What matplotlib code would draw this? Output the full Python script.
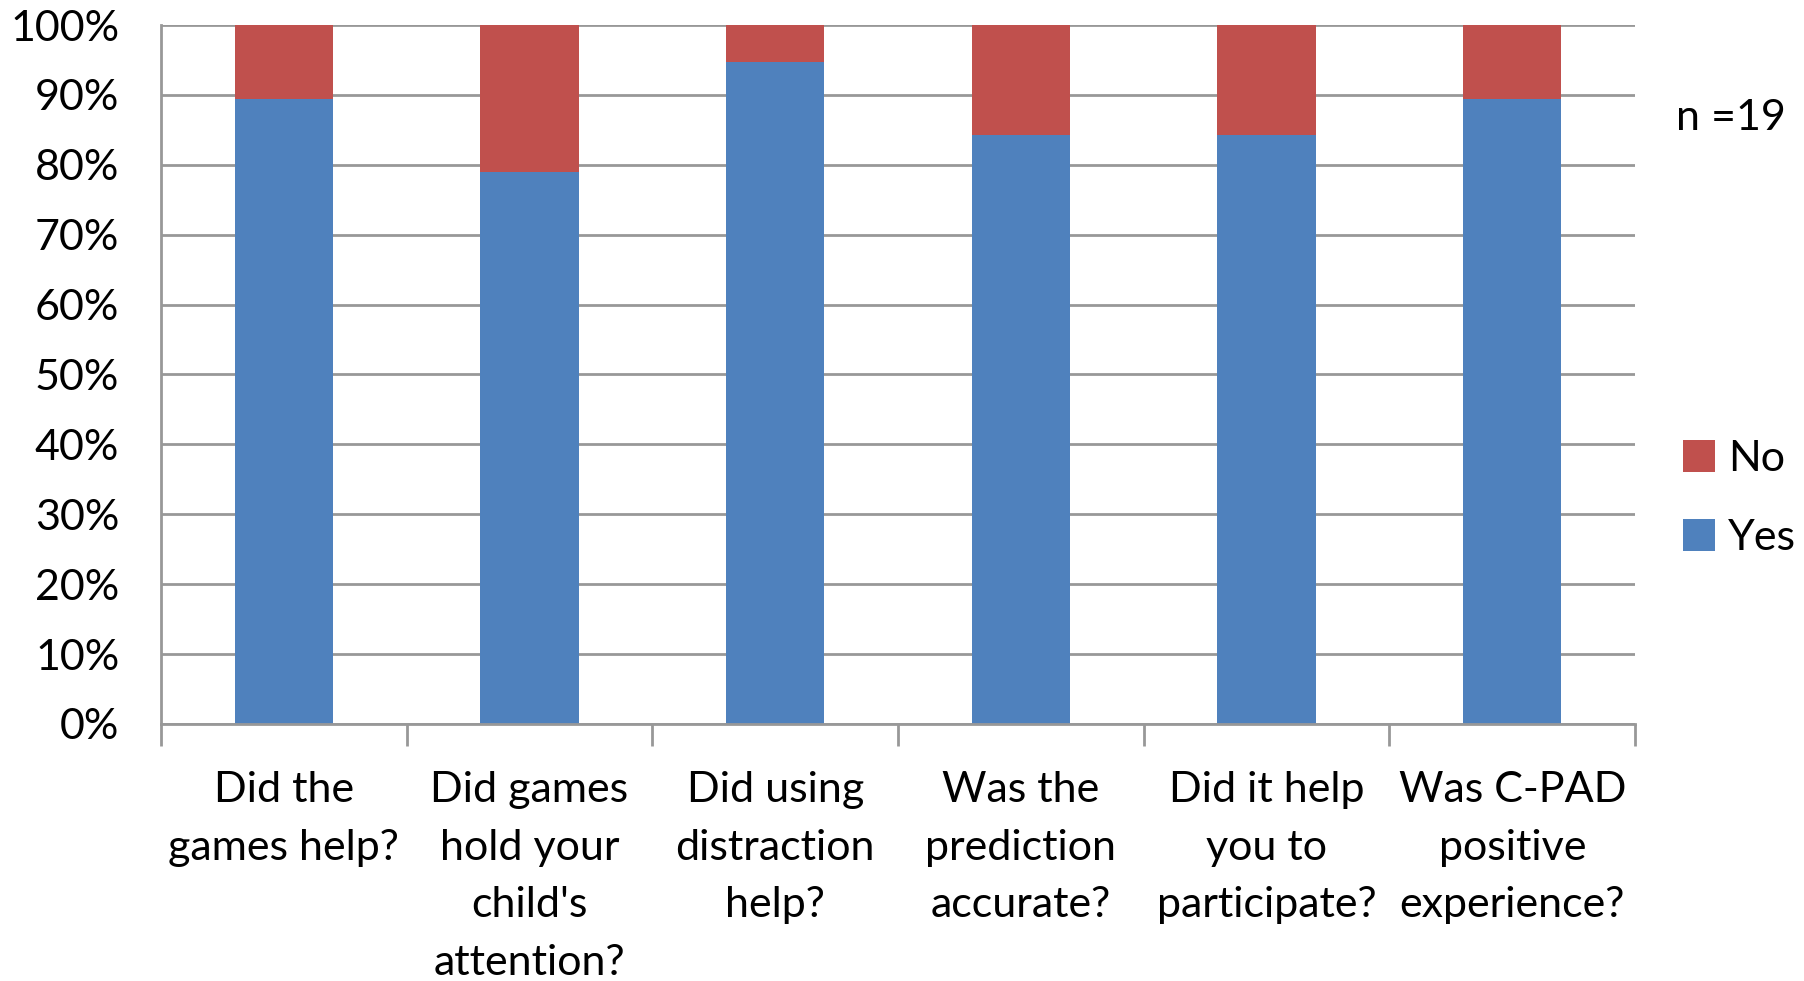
import numpy as np
import matplotlib.pyplot as plt
from matplotlib.ticker import FuncFormatter, FixedLocator

plt.rcParams['font.family'] = ['Lato', 'DejaVu Sans']

# survey questions, n = 19 respondents
questions = ["Did the\ngames help?",
             "Did games\nhold your\nchild's\nattention?",
             "Did using\ndistraction\nhelp?",
             "Was the\nprediction\naccurate?",
             "Did it help\nyou to\nparticipate?",
             "Was C-PAD\npositive\nexperience?"]
yes_pct = [89.47, 78.95, 94.74, 84.21, 84.21, 89.47]
no_pct = [10.53, 21.05, 5.26, 15.79, 15.79, 10.53]

blue = '#4F81BD'
red = '#C0504D'
grid_col = '#989898'
fs = 31

fig = plt.figure(figsize=(18.04, 9.81), dpi=100)
ax = fig.add_axes([0.0892, 0.262, 0.8172, 0.7125])

x = np.arange(len(questions))
ax.bar(x, yes_pct, width=0.4, color=blue, label='Yes', zorder=3)
ax.bar(x, no_pct, width=0.4, bottom=yes_pct, color=red, label='No', zorder=3)

ax.set_xlim(-0.5, len(questions) - 0.5)
ax.set_ylim(0, 100)
ax.set_yticks(np.arange(0, 101, 10))
ax.yaxis.set_major_formatter(FuncFormatter(lambda v, p: f'{v:.0f}%'))
ax.grid(axis='y', color=grid_col, linewidth=2, zorder=0)

# category boundary ticks, labels centred under bars
ax.xaxis.set_major_locator(FixedLocator(np.arange(-0.5, len(questions), 1)))
ax.xaxis.set_minor_locator(FixedLocator(x))
ax.set_xticklabels([])
ax.set_xticklabels(questions, minor=True)
ax.tick_params(axis='x', which='major', direction='out', length=16, width=2, color=grid_col)
ax.tick_params(axis='x', which='minor', length=0, pad=34, labelsize=fs)
for lab in ax.get_xticklabels(minor=True):
    lab.set_verticalalignment('top')
    lab.set_linespacing(1.63)
ax.tick_params(axis='y', length=0, pad=30, labelsize=fs)

for s in ['top', 'right']:
    ax.spines[s].set_visible(False)
for s in ['left', 'bottom']:
    ax.spines[s].set_color(grid_col)
    ax.spines[s].set_linewidth(2)
    ax.spines[s].set_zorder(4)

handles, labels = ax.get_legend_handles_labels()
fig.legend(handles[::-1], labels[::-1], loc='center left', bbox_to_anchor=(0.921, 0.492),
           frameon=False, fontsize=fs, handlelength=0.75, handleheight=0.75,
           handletextpad=0.3, labelspacing=0.95, borderpad=0)

fig.text(0.99, 0.88, 'n =19', fontsize=fs, ha='right', va='center')

fig.savefig('out.png', dpi=100)
